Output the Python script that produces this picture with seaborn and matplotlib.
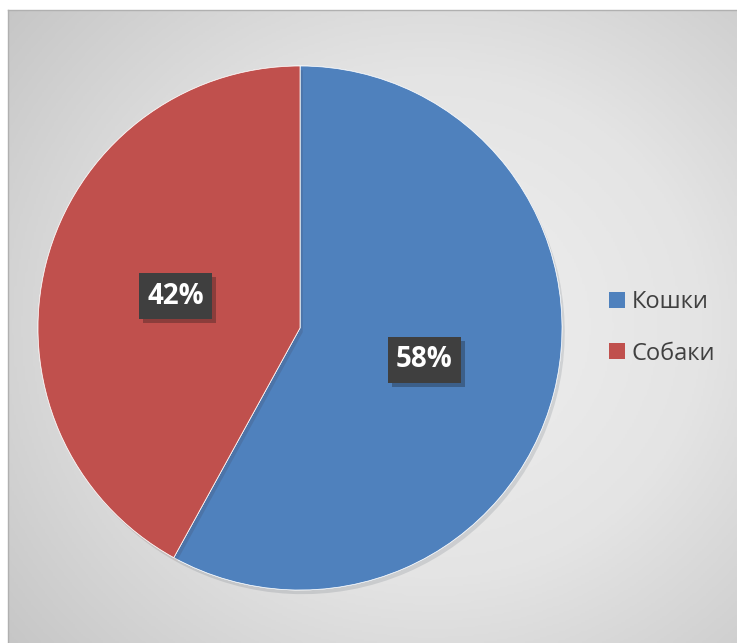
import numpy as np
import seaborn as sns
import matplotlib.pyplot as plt
import matplotlib.patheffects as pe
from matplotlib.patches import Patch

categories = ["Кошки", "Собаки"]
shares = [58, 42]
colors = ["#4F81BD", "#C0504D"]

sns.set_theme(style="white")
plt.rcParams['font.family'] = ['Open Sans', 'DejaVu Sans']

fig = plt.figure(figsize=(7.37, 6.43), dpi=100)
fig.patch.set_facecolor("white")

# grey radial gradient panel
W, H = 737, 643
bg = fig.add_axes([8 / W, 0, 1 - 8 / W, 1 - 10 / H])
yy, xx = np.mgrid[0:1:300j, 0:1:340j]
r = np.sqrt(((xx - 0.58) / 0.75) ** 2 + ((yy - 0.5) / 0.8) ** 2)
r = np.clip(r, 0, 1)
bg.imshow(r, cmap=sns.blend_palette(["#F0F0F0", "#E4E4E4", "#C6C6C6"], as_cmap=True),
          extent=[0, 1, 0, 1], aspect="auto", vmin=0, vmax=1)
bg.set_xticks([])
bg.set_yticks([])
for s in ["bottom", "right"]:
    bg.spines[s].set_visible(False)
for s in ["top", "left"]:
    bg.spines[s].set_color("#B0B0B0")
    bg.spines[s].set_linewidth(1)

ax = fig.add_axes([38 / W, (643 - 328 - 262) / H, 524 / W, 524 / H])
ax.set_facecolor("none")
wedges, texts, autotexts = ax.pie(shares, colors=colors, startangle=90, counterclock=False,
                                  autopct="%d%%", pctdistance=0.49,
                                  wedgeprops=dict(linewidth=0.5, edgecolor="white"))
for w in wedges:
    w.set_path_effects([pe.withSimplePatchShadow(offset=(2, -3), alpha=0.12), pe.Normal()])
for t in autotexts:
    t.set_color("white")
    t.set_fontsize(20)
    t.set_fontweight("bold")
    t.set_bbox(dict(boxstyle="square,pad=0.3", facecolor="#3F3F3F", edgecolor="none"))
    t.get_bbox_patch().set_path_effects([pe.withSimplePatchShadow(offset=(3, -3), alpha=0.3)])
ax.set_xlim(-1, 1)
ax.set_ylim(-1, 1)
ax.axis("off")

handles = [Patch(facecolor=c, edgecolor="none") for c in colors]
fig.legend(handles, categories, loc="center left", bbox_to_anchor=(588 / W, 1 - 328 / H),
           frameon=False, fontsize=17, handlelength=0.65, handleheight=0.65,
           handletextpad=0.3, labelspacing=1.15, labelcolor="#404040")

fig.savefig("out.png", dpi=100)
